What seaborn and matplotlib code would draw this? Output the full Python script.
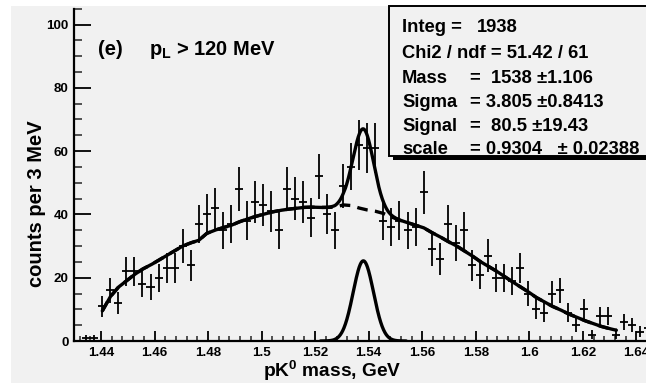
import numpy as np
import pandas as pd
import matplotlib
matplotlib.use("Agg")
import matplotlib.pyplot as plt
import seaborn as sns
from matplotlib.patches import Rectangle
from matplotlib.ticker import MultipleLocator, FuncFormatter

# pK0 invariant-mass histogram, 3 MeV bins starting at 1.430 GeV
bin_lo = 1.430
bin_width = 0.003
counts = [0, 1, 1, 11, 16, 12, 22, 22, 18, 17, 20, 23, 23, 30, 24, 37, 40, 42, 35, 37,
          48, 38, 44, 43, 41, 35, 48, 45, 44, 39, 52, 40, 35, 49, 55, 62, 61, 61, 38, 36,
          38, 35, 36, 47, 29, 26, 37, 31, 35, 24, 21, 27, 20, 20, 19, 23, 15, 10, 9, 15,
          16, 9, 5, 10, 2, 8, 8, 2, 6, 5, 3, 4]

# scaled background shape, one value per bin from 1.4405 to 1.6325 GeV
bg_first_bin = 3
background = [9.5, 14, 17, 19, 21, 22.7, 24, 25.5, 27, 28.5,
              30, 31, 31.8, 34, 35, 35.8, 36.5, 37.6, 38.5, 39.3,
              40, 40.7, 41.2, 41.6, 41.9, 42.2, 42.3, 42.2, 42.2, 42.3,
              43, 42.8, 42.0, 41.4, 41.0, 40.3, 39.2, 38.2, 37.4, 36.6,
              35.8, 34.3, 33, 31.5, 30.2, 28.6, 27, 25.2, 23.7, 22.2,
              20.5, 18.8, 17.2, 15.6, 13.8, 12.4, 11, 9.9, 8.6, 7.6,
              6.5, 5.6, 4.7, 4, 3.4]

# Gaussian signal fit parameters (GeV)
fit_mass = 1.538
fit_sigma = 0.003805
fit_signal = 80.5

stat_names = ["Mass", "Sigma", "Signal", "scale"]
stat_values = ["1538", "3.805", "80.5", "0.9304"]
stat_errors = ["1.106", "0.8413", "19.43", "0.02388"]
integ = 1938
chi2_text = "51.42 / 61"

x_ticks = [1.44, 1.46, 1.48, 1.5, 1.52, 1.54, 1.56, 1.58, 1.6, 1.62, 1.64]
y_ticks = [0, 20, 40, 60, 80, 100]

centers = bin_lo + bin_width * (np.arange(len(counts)) + 0.5)
df = pd.DataFrame({"mass": centers, "counts": counts})
df["err"] = np.sqrt(df["counts"])
df = df[df["counts"] > 0]

bg_x = centers[bg_first_bin:bg_first_bin + len(background)]
bg_df = pd.DataFrame({"mass": bg_x, "bg": background})


def gauss(x):
    amp = fit_signal * bin_width / (np.sqrt(2 * np.pi) * fit_sigma)
    return amp * np.exp(-0.5 * ((x - fit_mass) / fit_sigma) ** 2)


xf = np.linspace(bg_x[0], bg_x[-1], 1200)
fit_df = pd.DataFrame({"mass": xf, "total": np.interp(xf, bg_x, background) + gauss(xf)})
xs = np.linspace(1.522, 1.554, 300)
sig_df = pd.DataFrame({"mass": xs, "signal": gauss(xs)})

sns.set_theme(style="ticks")
plt.rcParams["font.family"] = ["Liberation Sans", "DejaVu Sans"]
plt.rcParams["font.weight"] = "bold"
plt.rcParams["mathtext.fontset"] = "custom"
plt.rcParams["mathtext.rm"] = "Liberation Sans:bold"
plt.rcParams["mathtext.bf"] = "Liberation Sans:bold"
plt.rcParams["mathtext.it"] = "Liberation Sans:bold"

W, H = 646, 383
fig = plt.figure(figsize=(W / 100, H / 100), dpi=100)
fig.patch.set_facecolor("white")
fig.add_artist(Rectangle((11 / W, 0), 1, 1 - 6 / H, transform=fig.transFigure,
                         facecolor="#f1f1f1", edgecolor="none", zorder=-5))

ax = fig.add_axes([74.2 / W, 42 / H, 589 / W, 332.3 / H])
ax.set_facecolor("none")

# data points with Poisson errors and bin-width horizontal bars
ax.errorbar(df["mass"], df["counts"], yerr=df["err"], xerr=bin_width / 2,
            fmt="none", ecolor="black", elinewidth=1.3, capsize=0, zorder=3)

sns.lineplot(data=fit_df, x="mass", y="total", ax=ax, color="black",
             linewidth=2.4, zorder=4, estimator=None, sort=False)
sns.lineplot(data=bg_df, x="mass", y="bg", ax=ax, color="black",
             linewidth=2.4, zorder=5, estimator=None, sort=False,
             dashes=False, linestyle=(0, (3.2, 2.2)))
sns.lineplot(data=sig_df, x="mass", y="signal", ax=ax, color="black",
             linewidth=2.4, zorder=4, estimator=None, sort=False)

ax.set_xlim(1.43, 1.65)
ax.set_ylim(0, 105)
ax.set_xlabel("")
ax.set_ylabel("")
ax.set_xticks(x_ticks)
ax.set_yticks(y_ticks)
ax.xaxis.set_minor_locator(MultipleLocator(0.004))
ax.yaxis.set_minor_locator(MultipleLocator(5))
fmt = FuncFormatter(lambda v, p: "%g" % round(v, 4))
ax.xaxis.set_major_formatter(fmt)
ax.yaxis.set_major_formatter(fmt)

for s in ["top", "right"]:
    ax.spines[s].set_visible(False)
for s in ["left", "bottom"]:
    ax.spines[s].set_linewidth(1.6)
    ax.spines[s].set_color("black")

ax.tick_params(axis="y", which="major", direction="in", length=12, width=1.3,
               pad=4, labelsize=9.6, colors="black")
ax.tick_params(axis="y", which="minor", direction="in", length=6, width=1.1)
ax.tick_params(axis="x", which="major", direction="in", length=7, width=1.3,
               pad=4, labelsize=9.6, colors="black")
ax.tick_params(axis="x", which="minor", direction="in", length=3.5, width=1.1)
for lab in ax.get_xticklabels() + ax.get_yticklabels():
    lab.set_fontweight("bold")


def ftext(x, y, s, **kw):
    fig.text(x / W, 1 - y / H, s, fontweight="bold", color="black", **kw)


# axis titles
ftext(332, 371.3, r"pK$^{\mathbf{0}}$ mass, GeV", fontsize=13.8, ha="center", va="center")
ftext(37, 204, "counts per 3 MeV", fontsize=14.5, ha="center", va="center", rotation=90)

# selection label
ftext(98, 55, "(e)", fontsize=14.5, ha="left", va="baseline")
ftext(149, 55, r"p$_{\mathbf{L}}$ > 120 MeV", fontsize=14.5, ha="left", va="baseline")

# fit statistics box with drop shadow
fig.add_artist(Rectangle((393 / W, 1 - 160 / H), 280 / W, 150 / H, transform=fig.transFigure,
                         facecolor="black", edgecolor="none", zorder=6))
fig.add_artist(Rectangle((389 / W, 1 - 156 / H), 280 / W, 150 / H, transform=fig.transFigure,
                         facecolor="#f1f1f1", edgecolor="black", linewidth=1.4, zorder=7))

rows = [32, 58, 83, 107, 131, 154]
fs = 13.2
ftext(402, rows[0], "Integ =", fontsize=fs, zorder=8)
ftext(477, rows[0], f"{integ}", fontsize=fs, zorder=8)
ftext(402, rows[1], f"Chi2 / ndf = {chi2_text}", fontsize=fs, zorder=8)

# value column layout per row: padding after "=" and before the plus-minus sign
eq_pad = ["  ", " ", "  ", " "]
pm_pad = [" ", " ", " ", "   "]
err_pad = ["", "", "", " "]
for name, val, err, y, a, b, c in zip(stat_names, stat_values, stat_errors,
                                      rows[2:], eq_pad, pm_pad, err_pad):
    ftext(402, y, name, fontsize=fs, zorder=8)
    ftext(470, y, f"={a}{val}{b}\u00b1{c}{err}", fontsize=fs, zorder=8)

fig.savefig("out.png", dpi=100)
